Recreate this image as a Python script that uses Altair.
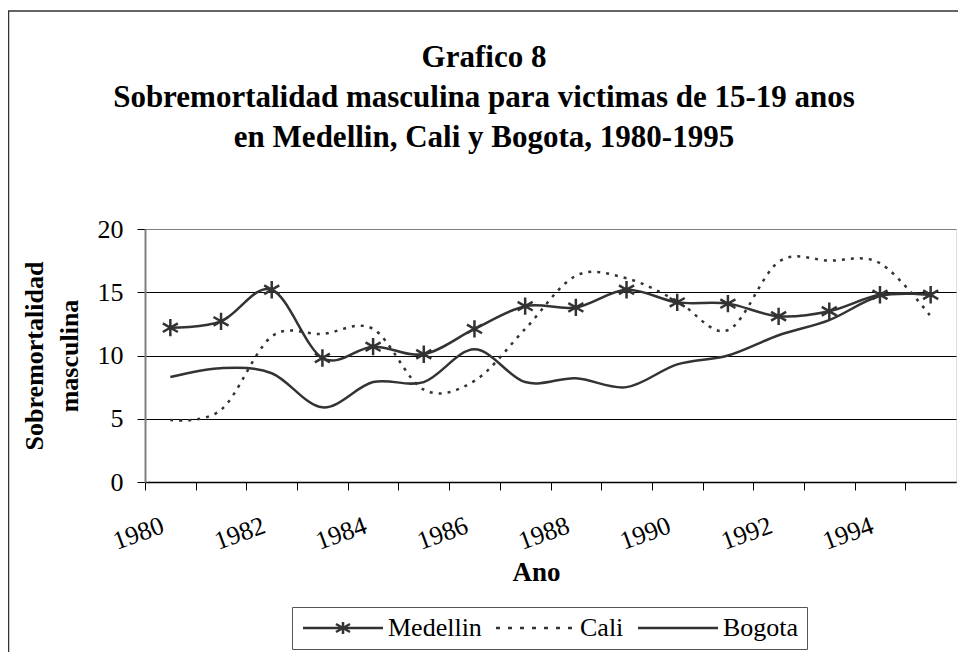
import altair as alt
import pandas as pd

years = list(range(1980, 1996))
medellin = [12.2, 12.7, 15.2, 9.8, 10.7, 10.1, 12.1, 13.9, 13.8, 15.2, 14.2, 14.1, 13.1, 13.5, 14.8, 14.8]
cali = [4.9, 5.7, 11.5, 11.7, 12.1, 7.3, 8.0, 12.1, 16.3, 16.1, 14.3, 12.0, 17.4, 17.5, 17.3, 13.1]
bogota = [8.3, 9.0, 8.6, 5.9, 7.9, 7.9, 10.5, 7.9, 8.2, 7.5, 9.3, 10.0, 11.6, 12.8, 14.7, 14.8]
series = ["Medellin", "Cali", "Bogota"]
y_ticks = [0, 5, 10, 15, 20]
title_lines = [
    "Grafico 8",
    "Sobremortalidad masculina para victimas de 15-19 anos",
    "en Medellin, Cali y Bogota, 1980-1995",
]
y_title = ["Sobremortalidad", "masculina"]
x_title = "Ano"

rows = []
for name, vals in zip(series, [medellin, cali, bogota]):
    for yr, v in zip(years, vals):
        rows.append({"Ano": yr, "Serie": name, "valor": v})
df = pd.DataFrame(rows)

W, H = 811, 253
STEP = W / len(years)
FONT = "Liberation Serif"
INK = "#333333"

STAR = "M0,-1V1M-0.87,-0.5L0.87,0.5M-0.87,0.5L0.87,-0.5"
# legend glyphs: 10 px per unit, drawn from unit -1 to 7 (about 80 px wide)
LEG_MED = "M-1,0H7M3,-0.6V0.6M2.3,-0.4L3.7,0.4M2.3,0.4L3.7,-0.4"
LEG_CALI = ("M-0.9,0H-0.5M0.3,0H0.7M1.5,0H1.9M2.7,0H3.1"
            "M3.9,0H4.3M5.1,0H5.5M6.3,0H6.7")
LEG_BOG = "M-1,0H7"

x_enc = alt.X(
    "Ano:O",
    scale=alt.Scale(type="point", padding=0.5, domain=years),
    axis=alt.Axis(
        values=years,
        labelExpr="datum.value % 2 == 0 ? datum.label : ''",
        tickOffset=-STEP / 2,
        labelOffset=13,
        labelAngle=-20,
        labelAlign="right",
        labelBaseline="top",
        labelPadding=22,
        labelOverlap=False,
        labelFont=FONT,
        labelFontSize=26,
        labelColor="black",
        tickSize=8,
        tickColor="black",
        domainColor="black",
        domainWidth=1.5,
        grid=False,
        title=x_title,
        titleFont=FONT,
        titleFontSize=27,
        titleFontWeight="bold",
        titleColor="black",
        titleX=391,
        titleY=90,
        titleAngle=0,
        titleAlign="center",
        titleBaseline="middle",
    ),
)

y_enc = alt.Y(
    "valor:Q",
    scale=alt.Scale(domain=[0, 20], nice=False),
    axis=alt.Axis(
        values=y_ticks,
        grid=True,
        gridColor={"condition": {"test": "datum.value == 20", "value": "#808080"}, "value": "black"},
        gridWidth=1,
        tickSize=8,
        tickColor="black",
        domainColor="#808080",
        domainWidth=2,
        labelFont=FONT,
        labelFontSize=26,
        labelColor="black",
        labelPadding=14,
        title=y_title,
        titleFont=FONT,
        titleFontSize=26,
        titleFontWeight="bold",
        titleColor="black",
        titleX=-110.5,
        titleY=H / 2,
        titleAngle=-90,
        titleAlign="center",
        titleBaseline="middle",
        titleLineHeight=35,
    ),
)

base = alt.Chart(df)

solid_lines = base.transform_filter(alt.datum.Serie != "Cali").mark_line(
    interpolate="cardinal", color=INK, strokeWidth=2.5
).encode(x=x_enc, y=y_enc, detail="Serie:N")

dashed_line = base.transform_filter(alt.datum.Serie == "Cali").mark_line(
    interpolate="cardinal", color=INK, strokeWidth=2.5, strokeDash=[3, 6]
).encode(x=x_enc, y=y_enc)

stars = base.transform_filter(alt.datum.Serie == "Medellin").mark_point(
    shape=STAR, size=300, filled=False, color=INK, strokeWidth=2.5, opacity=1
).encode(x=x_enc, y=y_enc)

legend_layer = base.transform_filter("datum.valor < -1000").mark_point(
    filled=False, color=INK, strokeWidth=2.5
).encode(
    x=x_enc,
    y=y_enc,
    shape=alt.Shape(
        "Serie:N",
        scale=alt.Scale(domain=series, range=[LEG_MED, LEG_CALI, LEG_BOG]),
        legend=alt.Legend(
            title=None,
            orient="none",
            legendX=147,
            legendY=378,
            direction="horizontal",
            symbolSize=400,
            symbolStrokeWidth=2.5,
            symbolStrokeColor=INK,
            symbolFillColor="transparent",
            symbolOpacity=1,
            labelFont=FONT,
            labelFontSize=26,
            labelColor="black",
            labelOffset=62,
            columnPadding=9,
            padding=8,
            strokeColor="#555555",
            fillColor="white",
        ),
    ),
)

frame_df = pd.DataFrame({"k": [0]})
frame = alt.Chart(frame_df).mark_rect(
    fill="transparent", stroke="#333333", strokeWidth=1.5
).encode(
    x=alt.value(-136.5), x2=alt.value(W + 60), y=alt.value(-218), y2=alt.value(H + 250)
)

title = alt.Chart(frame_df).mark_text(
    text=title_lines,
    font=FONT,
    fontSize=31,
    fontWeight="bold",
    lineHeight=40,
    align="center",
    baseline="alphabetic",
    color="black",
).encode(x=alt.value(339), y=alt.value(-162))

chart = (
    alt.layer(frame, solid_lines, dashed_line, stars, legend_layer, title)
    .properties(
        width=W,
        height=H,
        padding={"left": 137, "top": 221, "right": 2, "bottom": 170},
        autosize=alt.AutoSizeParams(type="none"),
    )
    .configure_view(stroke="#808080", strokeWidth=2)
    .configure(background="white")
)

chart.save("out.html", embed_options={"renderer": "svg", "actions": False})
